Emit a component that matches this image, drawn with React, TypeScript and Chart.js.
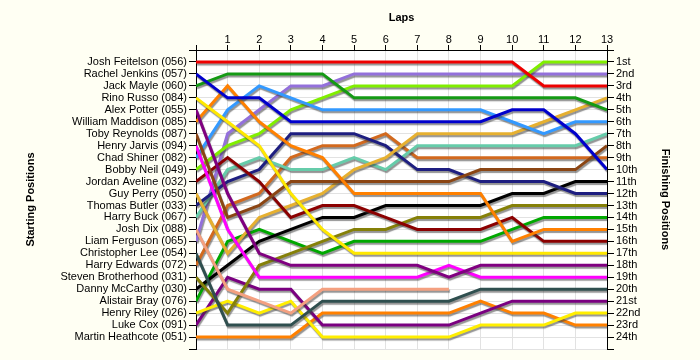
import React, { useEffect, useRef } from 'react';
import { Chart, registerables } from 'chart.js';

Chart.register(...registerables);

// ---- Data ----
const laps = [0, 1, 2, 3, 4, 5, 6, 7, 8, 9, 10, 11, 12, 13];

const startingNames = [
  'Josh Feitelson (056)', 'Rachel Jenkins (057)', 'Jack Mayle (060)', 'Rino Russo (084)',
  'Alex Potter (055)', 'William Maddison (085)', 'Toby Reynolds (087)', 'Henry Jarvis (094)',
  'Chad Shiner (082)', 'Bobby Neil (049)', 'Jordan Aveline (032)', 'Guy Perry (050)',
  'Thomas Butler (033)', 'Harry Buck (067)', 'Josh Dix (088)', 'Liam Ferguson (065)',
  'Christopher Lee (054)', 'Harry Edwards (072)', 'Steven Brotherhood (031)', 'Danny McCarthy (030)',
  'Alistair Bray (076)', 'Henry Riley (026)', 'Luke Cox (091)', 'Martin Heathcote (051)',
];

const finishLabels = [
  '1st', '2nd', '3rd', '4th', '5th', '6th', '7th', '8th', '9th', '10th', '11th', '12th',
  '13th', '14th', '15th', '16th', '17th', '18th', '19th', '20th', '21st', '22nd', '23rd', '24th',
];

const lineColors = [
  '#EE0000', '#0000CC', '#149A14', '#FFE800', '#800080', '#FF8000', '#8B4513', '#FF00FF',
  '#3399FF', '#80EE00', '#8B0000', '#E6B030', '#1E1E80', '#66CCAA', '#F4A080', '#9370DB',
  '#2F4F4F', '#D2691E', '#858008', '#000000', '#00A800', '#FFEE00', '#7A0080', '#FF8000',
];

const feitelson = [1, 1, 1, 1, 1, 1, 1, 1, 1, 1, 1, 3, 3, 3];
const jenkins = [2, 4, 4, 6, 6, 6, 6, 6, 6, 6, 5, 5, 7, 10];
const mayle = [3, 2, 2, 2, 2, 4, 4, 4, 4, 4, 4, 4, 4, 5];
const russo = [4, 6, 8, 12, 15, 17, 17, 17, 17, 17, 17, 17, 17, 17];
const potter = [5, 12, 17, 18, 18, 18, 18, 18, 19, 18, 18, 18, 18, 18];
const maddison = [6, 3, 6, 8, 9, 12, 12, 12, 12, 12, 16, 15, 15, 15];
const reynolds = [7, 14, 13, 11, 11, 11, 11, 11, 11, 10, 10, 10, 10, 8];
const jarvis = [8, 15, 19, 19, 19, 19, 19, 19, 18, 19, 19, 19, 19, 19];
const shiner = [9, 5, 3, 4, 5, 5, 5, 5, 5, 5, 6, 7, 6, 6];
const neil = [10, 8, 7, 5, 4, 3, 3, 3, 3, 3, 3, 1, 1, 1];
const aveline = [11, 9, 11, 14, 13, 13, 14, 15, 15, 15, 14, 16, 16, 16];
const perry = [12, 17, 14, 13, 12, 10, 9, 7, 7, 7, 7, 6, 5, 4];
const butler = [13, 11, 10, 7, 7, 7, 8, 10, 10, 11, 11, 11, 12, 12];
const buck = [14, 10, 9, 10, 10, 9, 10, 8, 8, 8, 8, 8, 8, 7];
const dix = [15, 20, 21, 22, 20, 20, 20, 20, 20];
const ferguson = [16, 7, 5, 3, 3, 2, 2, 2, 2, 2, 2, 2, 2, 2];
const lee = [17, 23, 23, 23, 21, 21, 21, 21, 21, 20, 20, 20, 20, 20];
const edwards = [18, 13, 12, 9, 8, 8, 7, 9, 9, 9, 9, 9, 9, 9];
const brotherhood = [19, 22, 18, 17, 16, 15, 15, 14, 14, 14, 13, 13, 13, 13];
const mccarthy = [20, 18, 16, 15, 14, 14, 13, 13, 13, 13, 12, 12, 11, 11];
const bray = [21, 16, 15, 16, 17, 16, 16, 16, 16, 16, 15, 14, 14, 14];
const riley = [22, 21, 22, 21, 24, 24, 24, 24, 24, 23, 23, 23, 22, 22];
const cox = [23, 19, 20, 20, 23, 23, 23, 23, 23, 22, 21, 21, 21, 21];
const heathcote = [24, 24, 24, 24, 22, 22, 22, 22, 22, 21, 22, 22, 23, 23];

const driverPositions = [
  feitelson, jenkins, mayle, russo, potter, maddison, reynolds, jarvis,
  shiner, neil, aveline, perry, butler, buck, dix, ferguson,
  lee, edwards, brotherhood, mccarthy, bray, riley, cox, heathcote,
];

const GRID = '#E2E2E2';
const FONT = '"Liberation Sans", Arial, sans-serif';

const backgroundPlugin = {
  id: 'bgPlugin',
  beforeDraw(chart: any) {
    const { ctx, chartArea, width, height } = chart;
    ctx.save();
    ctx.fillStyle = '#FFFFF3';
    ctx.fillRect(0, 0, width, height);
    ctx.fillStyle = '#FFFFFF';
    ctx.fillRect(chartArea.left, chartArea.top, chartArea.right - chartArea.left, chartArea.bottom - chartArea.top);
    ctx.restore();
  },
};

const shadowPlugin = {
  id: 'lineShadow',
  beforeDatasetDraw(chart: any) {
    const ctx = chart.ctx;
    ctx.save();
    ctx.shadowColor = 'rgba(60,60,60,0.55)';
    ctx.shadowOffsetX = 1;
    ctx.shadowOffsetY = 2;
    ctx.shadowBlur = 1;
  },
  afterDatasetDraw(chart: any) {
    chart.ctx.restore();
  },
};

export default function App() {
  const canvasRef = useRef<HTMLCanvasElement | null>(null);

  useEffect(() => {
    document.body.style.margin = '0';
    const canvas = canvasRef.current;
    if (!canvas) return;

    const datasets = driverPositions.map((arr, i) => ({
      label: startingNames[i],
      data: laps.map((lap, j) => ({ x: lap, y: j < arr.length ? arr[j] : null })),
      borderColor: lineColors[i],
      backgroundColor: lineColors[i],
      borderWidth: 3,
      pointRadius: 0,
      tension: 0,
      fill: false,
      spanGaps: false,
      yAxisID: 'y',
      xAxisID: 'x',
    }));

    const chart = new Chart(canvas, {
      type: 'line',
      data: { datasets },
      plugins: [backgroundPlugin, shadowPlugin],
      options: {
        animation: false,
        responsive: false,
        maintainAspectRatio: false,
        events: [],
        font: { family: FONT, size: 11 },
        layout: { padding: { left: 18, right: 20, top: 5, bottom: 11 } },
        plugins: {
          legend: { display: false },
          tooltip: { enabled: false },
        },
        scales: {
          x: {
            type: 'linear',
            position: 'top',
            min: 0,
            max: 13,
            ticks: {
              stepSize: 1,
              autoSkip: false,
              maxRotation: 0,
              padding: 0,
              color: '#000',
              font: { family: FONT, size: 11, lineHeight: 1 },
              callback: (v: any) => (v === 0 ? '' : String(v)),
            },
            grid: {
              color: (c: any) => (c.tick && (c.tick.value === 0 || c.tick.value === 13) ? 'rgba(0,0,0,0)' : GRID),
              tickColor: '#000',
              tickLength: 5,
              drawTicks: true,
            },
            border: { color: '#000', width: 1 },
            title: {
              display: true,
              text: 'Laps',
              color: '#000',
              font: { family: FONT, size: 11, weight: 'bold' },
              padding: { top: 6, bottom: 0 },
            },
            afterFit: (s: any) => { s.height = 45; },
          },
          y: {
            type: 'linear',
            position: 'left',
            min: 0,
            max: 25,
            reverse: true,
            ticks: {
              stepSize: 1,
              autoSkip: false,
              padding: 2,
              color: '#000',
              font: { family: FONT, size: 11 },
              callback: (v: any) => startingNames[v - 1] ?? '',
            },
            grid: {
              color: (c: any) => (c.tick && c.tick.value === 0 ? 'rgba(0,0,0,0)' : GRID),
              tickColor: '#000',
              tickLength: 7,
            },
            border: { color: '#000', width: 1 },
            title: {
              display: true,
              text: 'Starting Positions',
              color: '#000',
              font: { family: FONT, size: 11, weight: 'bold' },
              padding: { top: 6, bottom: 0 },
            },
            afterFit: (s: any) => { s.width = 178; },
          },
          y2: {
            type: 'linear',
            position: 'right',
            min: 0,
            max: 25,
            reverse: true,
            ticks: {
              stepSize: 1,
              autoSkip: false,
              padding: 2,
              color: '#000',
              font: { family: FONT, size: 11 },
              callback: (v: any) => finishLabels[v - 1] ?? '',
            },
            grid: {
              drawOnChartArea: false,
              tickColor: '#000',
              tickLength: 7,
            },
            border: { color: '#000', width: 1 },
            title: {
              display: true,
              text: 'Finishing Positions',
              color: '#000',
              font: { family: FONT, size: 11, weight: 'bold' },
              padding: { top: 8, bottom: 0 },
            },
            afterFit: (s: any) => { s.width = 73; },
          },
        },
      },
    } as any);

    return () => chart.destroy();
  }, []);

  return (
    <div style={{ position: 'fixed', left: 0, top: 0, width: 700, height: 360 }}>
      <canvas ref={canvasRef} width={700} height={360} style={{ width: 700, height: 360, display: 'block' }} />
    </div>
  );
}
